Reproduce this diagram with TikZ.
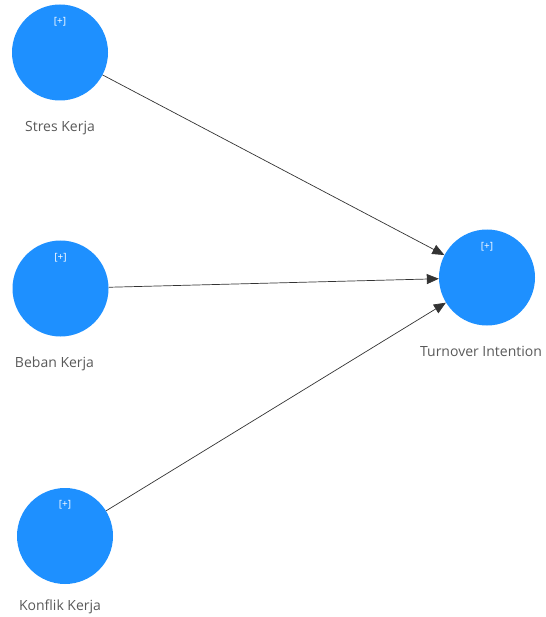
\documentclass[tikz,border=0pt]{standalone}
\usepackage{fontspec}
\setmainfont{Open Sans}
\usepackage{tikz}
\usetikzlibrary{
	positioning,
	arrows.meta
}
\definecolor{latentblue}{RGB}{30,144,255}
\tikzset{
	latent/.style={circle,fill=latentblue,minimum size=96pt,inner sep=0pt},
	plusmark/.style={text=white,font=\fontsize{10}{11}\selectfont,yshift=-25pt},
	namelabel/.style={text=black!65,font=\fontsize{14}{16}\selectfont,yshift=-17pt},
	inflow/.style={draw=black!80,line width=0.7pt,-{Triangle[length=12pt,width=10pt]}}
}
\begin{document}
\begin{tikzpicture}[x=1pt,y=1pt]
	\useasboundingbox (0,0) rectangle (545,-617);
	\draw
		node [latent,label={[plusmark]90:{[+]}},label={[namelabel]below:Stres Kerja}]                   (sk) at (60,-52.5)    {}
		node [latent,label={[plusmark]90:{[+]}},label={[namelabel,xshift=-6pt]below:Beban Kerja}]       (bk) at (60.5,-288.5) {}
		node [latent,label={[plusmark]90:{[+]}},label={[namelabel,xshift=-5pt,yshift=5pt]below:Konflik Kerja}] (kk) at (65,-536) {}
		node [latent,label={[plusmark]90:{[+]}},label={[namelabel,xshift=-6pt]below:Turnover Intention}] (ti) at (487,-277.5)  {}

		(sk) edge[inflow] (ti)
		(bk) edge[inflow] (ti)
		(kk) edge[inflow] (ti)
	;
\end{tikzpicture}
\end{document}
